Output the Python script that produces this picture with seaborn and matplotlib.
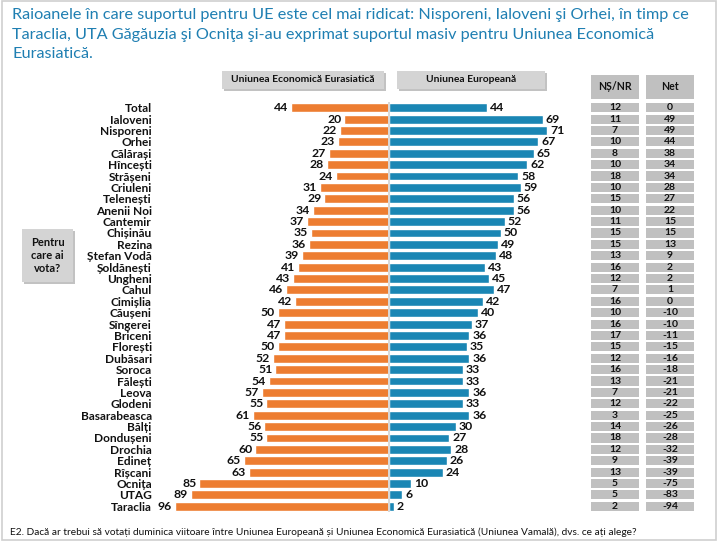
import pandas as pd
import seaborn as sns
import matplotlib.pyplot as plt
import matplotlib.transforms as mtransforms
from matplotlib.patches import Rectangle

# Data
districts = ['Total', 'Ialoveni', 'Nisporeni', 'Orhei', 'Călărași', 'Hîncești', 'Strășeni',
             'Criuleni', 'Telenești', 'Anenii Noi', 'Cantemir', 'Chișinău', 'Rezina',
             'Ștefan Vodă', 'Șoldănești', 'Ungheni', 'Cahul', 'Cimișlia', 'Căușeni',
             'Sîngerei', 'Briceni', 'Florești', 'Dubăsari', 'Soroca', 'Fălești', 'Leova',
             'Glodeni', 'Basarabeasca', 'Bălți', 'Dondușeni', 'Drochia', 'Edineț',
             'Rîșcani', 'Ocnița', 'UTAG', 'Taraclia']
eea = [44, 20, 22, 23, 27, 28, 24, 31, 29, 34, 37, 35, 36, 39, 41, 43, 46, 42, 50,
       47, 47, 50, 52, 51, 54, 57, 55, 61, 56, 55, 60, 65, 63, 85, 89, 96]
eu = [44, 69, 71, 67, 65, 62, 58, 59, 56, 56, 52, 50, 49, 48, 43, 45, 47, 42, 40,
      37, 36, 35, 36, 33, 33, 36, 33, 36, 30, 27, 28, 26, 24, 10, 6, 2]
nsnr = [12, 11, 7, 10, 8, 10, 18, 10, 15, 10, 11, 15, 15, 13, 16, 12, 7, 16, 10,
        16, 17, 15, 12, 16, 13, 7, 12, 3, 14, 18, 12, 9, 13, 5, 5, 2]
net = [0, 49, 49, 44, 38, 34, 34, 28, 27, 22, 15, 15, 13, 9, 2, 2, 1, 0, -10,
       -10, -11, -15, -16, -18, -21, -21, -22, -25, -26, -28, -32, -39, -39, -75, -83, -94]

title = ('Raioanele în care suportul pentru UE este cel mai ridicat: Nisporeni, Ialoveni şi Orhei, în timp ce\n'
         'Taraclia, UTA Găgăuzia şi Ocniţa şi-au exprimat suportul masiv pentru Uniunea Economică\n'
         'Eurasiatică.')
footer = ('E2. Dacă ar trebui să votați duminica viitoare între Uniunea Europeană și Uniunea '
          'Economică Eurasiatică (Uniunea Vamală), dvs. ce ați alege?')

ORANGE = '#ED7D31'
BLUE = '#1A86B4'
CELL = '#C0C0C0'

sns.set_theme(style='white')
plt.rcParams['font.family'] = ['Lato', 'DejaVu Sans']

# long form: eurasian side negative
df = pd.concat([
    pd.DataFrame({'district': districts, 'value': [-v for v in eea], 'side': 'UEE'}),
    pd.DataFrame({'district': districts, 'value': eu, 'side': 'UE'}),
])

W, H = 720, 541
fig = plt.figure(figsize=(7.2, 5.41), dpi=100)
ax = fig.add_axes([160 / W, 1 - 512 / H, 430 / W, 410 / H])

sns.barplot(data=df, x='value', y='district', hue='side', dodge=False,
            palette={'UEE': ORANGE, 'UE': BLUE}, width=0.78, ax=ax,
            legend=False, saturation=1)
ax.set_xlim(-102.7, 90.1)
ax.set_ylim(len(districts) - 0.5, -0.5)
ax.axvline(0, color='#d8d8d8', lw=1.4, zorder=5)
ax.set_xlabel('')
ax.set_ylabel('')
ax.set_xticks([])
ax.tick_params(axis='y', length=0, pad=6)
for lab in ax.get_yticklabels():
    lab.set_fontsize(8.6)
    lab.set_fontweight('bold')
    lab.set_color('#111111')
sns.despine(ax=ax, left=True, bottom=True)

for i in range(len(districts)):
    ax.text(-eea[i] - 1.3, i, str(eea[i]), ha='right', va='center',
            fontsize=8.8, fontweight='bold', color='#111111')
    ax.text(eu[i] + 1.3, i, str(eu[i]), ha='left', va='center',
            fontsize=8.8, fontweight='bold', color='#111111')

# table columns (x in figure fraction, y in data rows)
trans = mtransforms.blended_transform_factory(fig.transFigure, ax.transData)
cols = [(591, 639, nsnr), (646, 694, net)]
for x0, x1, vals in cols:
    for i, v in enumerate(vals):
        ax.add_patch(Rectangle((x0 / W, i - 0.4), (x1 - x0) / W, 0.8, transform=trans,
                               facecolor=CELL, edgecolor='none', clip_on=False))
        ax.text((x0 + x1) / 2 / W, i, str(v), transform=trans, ha='center', va='center',
                fontsize=7.5, fontweight='bold', color='#111111')


def box(x0, y0, x1, y1, text, fs, color='#D4D4D4', shadow=True):
    if shadow:
        fig.patches.append(Rectangle((x0 / W + 2 / W, 1 - y1 / H - 2 / H), (x1 - x0) / W, (y1 - y0) / H,
                                     transform=fig.transFigure, facecolor='#9a9a9a',
                                     edgecolor='none', alpha=0.6))
    fig.patches.append(Rectangle((x0 / W, 1 - y1 / H), (x1 - x0) / W, (y1 - y0) / H,
                                 transform=fig.transFigure, facecolor=color, edgecolor='none'))
    fig.text((x0 + x1) / 2 / W, 1 - (y0 + y1) / 2 / H, text, ha='center', va='center',
             fontsize=fs, fontweight='bold', color='#111111', linespacing=1.25)


box(222, 71, 384, 89, 'Uniunea Economică Eurasiatică', 7.4)
box(397, 71, 545, 89, 'Uniunea Europeană', 7.4)
box(591, 75, 639, 99, 'NȘ/NR', 7.6, color=CELL, shadow=False)
box(646, 75, 694, 99, 'Net', 7.6, color=CELL, shadow=False)
box(22, 229, 73, 282, 'Pentru\ncare ai\nvota?', 8)

fig.text(12 / W, 1 - 8 / H, title, ha='left', va='top', fontsize=11.7,
         color='#1F7FB2', linespacing=1.5)
fig.text(10 / W, 1 - 532 / H, footer, ha='left', va='center', fontsize=7.3, color='#111111')

# light frame around the slide
fig.patches.append(Rectangle((2 / W, 1 / H), 714 / W, 539 / H, transform=fig.transFigure,
                             facecolor='none', edgecolor='#cfcfcf', lw=1.2))

fig.savefig('out.png', dpi=100)
